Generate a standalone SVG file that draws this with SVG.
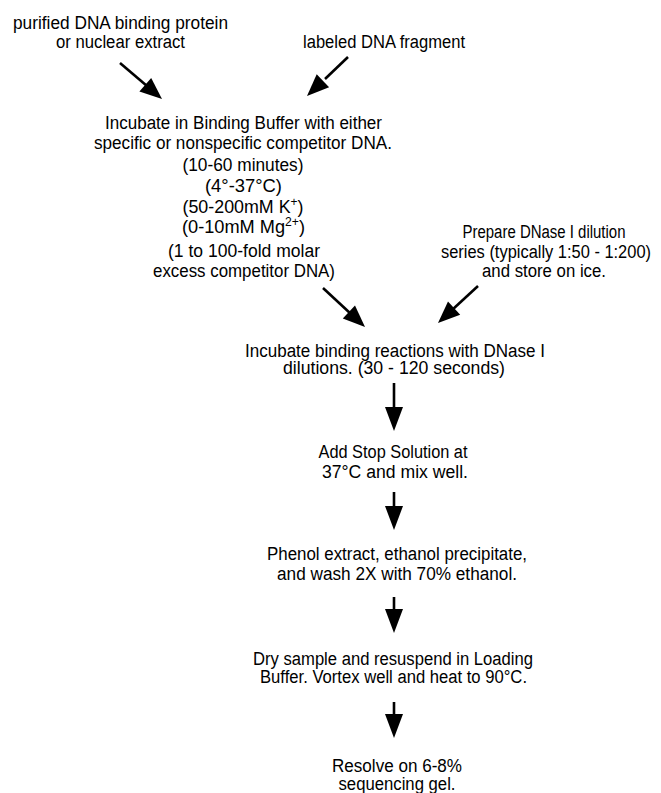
<svg xmlns="http://www.w3.org/2000/svg" width="661" height="793" viewBox="0 0 661 793">
<style>
text{font-family:"Liberation Sans",Arial,sans-serif;font-size:18px;fill:#000;text-anchor:middle}
.sup{font-size:12px}
.shaft{stroke:#000;stroke-width:2.6;fill:none}
.head{fill:#000;stroke:none}
</style>
<rect width="661" height="793" fill="#fff"/>
<g id="protein">
<text x="120.5" y="29" textLength="215" lengthAdjust="spacingAndGlyphs">purified DNA binding protein</text>
<text x="120.5" y="48" textLength="129" lengthAdjust="spacingAndGlyphs">or nuclear extract</text>
</g>
<g id="fragment">
<text x="384" y="48" textLength="162" lengthAdjust="spacingAndGlyphs">labeled DNA fragment</text>
</g>
<g id="binding">
<text x="243.5" y="129" textLength="277" lengthAdjust="spacingAndGlyphs">Incubate in Binding Buffer with either</text>
<text x="243" y="149" textLength="298" lengthAdjust="spacingAndGlyphs">specific or nonspecific competitor DNA.</text>
<text x="243" y="171" textLength="121" lengthAdjust="spacingAndGlyphs">(10-60 minutes)</text>
<text x="243.5" y="192" textLength="77" lengthAdjust="spacingAndGlyphs">(4°-37°C)</text>
<text x="243" y="213" textLength="121" lengthAdjust="spacingAndGlyphs">(50-200mM K<tspan class="sup" dy="-7">+</tspan><tspan dy="7">)</tspan></text>
<text x="243.5" y="233" textLength="123" lengthAdjust="spacingAndGlyphs">(0-10mM Mg<tspan class="sup" dy="-7">2+</tspan><tspan dy="7">)</tspan></text>
<text x="244" y="257" textLength="152" lengthAdjust="spacingAndGlyphs">(1 to 100-fold molar</text>
<text x="244" y="277" textLength="182" lengthAdjust="spacingAndGlyphs">excess competitor DNA)</text>
</g>
<g id="dnase">
<text x="544" y="238" textLength="163" lengthAdjust="spacingAndGlyphs">Prepare DNase I dilution</text>
<text x="546" y="258" textLength="210" lengthAdjust="spacingAndGlyphs">series (typically 1:50 - 1:200)</text>
<text x="544" y="277" textLength="124" lengthAdjust="spacingAndGlyphs">and store on ice.</text>
</g>
<g id="digest">
<text x="395" y="357" textLength="300" lengthAdjust="spacingAndGlyphs">Incubate binding reactions with DNase I</text>
<text x="394" y="374" textLength="222" lengthAdjust="spacingAndGlyphs">dilutions. (30 - 120 seconds)</text>
</g>
<g id="stop">
<text x="393" y="458" textLength="149" lengthAdjust="spacingAndGlyphs">Add Stop Solution at</text>
<text x="395" y="478" textLength="146" lengthAdjust="spacingAndGlyphs">37°C and mix well.</text>
</g>
<g id="phenol">
<text x="397" y="560" textLength="260" lengthAdjust="spacingAndGlyphs">Phenol extract, ethanol precipitate,</text>
<text x="397" y="580" textLength="240" lengthAdjust="spacingAndGlyphs">and wash 2X with 70% ethanol.</text>
</g>
<g id="dry">
<text x="393" y="665" textLength="280" lengthAdjust="spacingAndGlyphs">Dry sample and resuspend in Loading</text>
<text x="393.5" y="683" textLength="267" lengthAdjust="spacingAndGlyphs">Buffer. Vortex well and heat to 90°C.</text>
</g>
<g id="resolve">
<text x="397" y="772" textLength="130" lengthAdjust="spacingAndGlyphs">Resolve on 6-8%</text>
<text x="397" y="790" textLength="117" lengthAdjust="spacingAndGlyphs">sequencing gel.</text>
</g>
<g id="connectors">
<line class="shaft" x1="120" y1="63" x2="147" y2="86"/>
<polygon class="head" points="162,99 139.4,91.5 151.2,77.9"/>
<line class="shaft" x1="348" y1="57" x2="325" y2="79"/>
<polygon class="head" points="307,96 329.1,87.3 316.7,74.3"/>
<line class="shaft" x1="323" y1="288" x2="351" y2="314"/>
<polygon class="head" points="365,327 342.8,318.6 355,305.4"/>
<line class="shaft" x1="478" y1="286" x2="452" y2="310"/>
<polygon class="head" points="438,323 460.2,314.7 448,301.5"/>
<line class="shaft" x1="394" y1="383" x2="394" y2="409"/>
<polygon class="head" points="385,407 403,407 394,431"/>
<line class="shaft" x1="394" y1="492" x2="394" y2="508"/>
<polygon class="head" points="385,506 403,506 394,530"/>
<line class="shaft" x1="394" y1="597" x2="394" y2="611"/>
<polygon class="head" points="385,609 403,609 394,633"/>
<line class="shaft" x1="394" y1="702" x2="394" y2="716"/>
<polygon class="head" points="385,714 403,714 394,738"/>
</g>
</svg>
